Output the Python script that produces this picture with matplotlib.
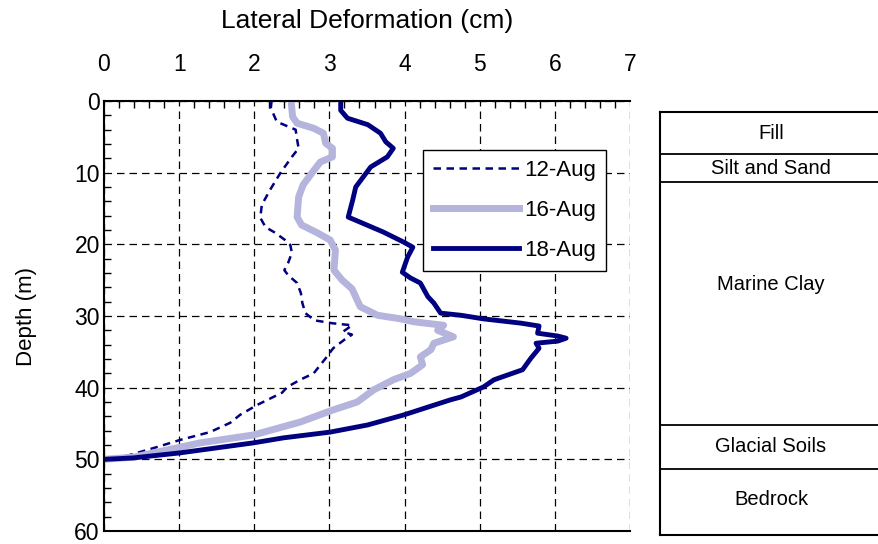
import matplotlib.pyplot as plt
from matplotlib.ticker import MultipleLocator

plt.rcParams['font.family'] = ['Liberation Sans', 'DejaVu Sans']

# inclinometer readings: depth (m) and lateral deformation (cm)
depth_12aug = [0, 1, 2.9, 4, 5.4, 6.6, 7.8, 10, 12.4, 14.5, 16.3, 17.6, 18.4, 19.4,
               20.1, 21.2, 22.6, 23.6, 24.3, 25.4, 26.8, 28.2, 29.6, 30.6, 31, 31.3,
               32.2, 32.6, 33.3, 34.5, 35.9, 38, 38.9, 39.9, 40.7, 42.4, 43.8, 44.9,
               46.2, 47.3, 48.3, 49.1, 49.8, 50]
defl_12aug = [2.23, 2.22, 2.3, 2.55, 2.57, 2.59, 2.5, 2.35, 2.21, 2.1, 2.08, 2.15, 2.28, 2.41,
              2.48, 2.5, 2.45, 2.4, 2.45, 2.57, 2.62, 2.64, 2.68, 2.8, 3.03, 3.3,
              3.18, 3.3, 3.2, 3.05, 2.95, 2.79, 2.61, 2.44, 2.37, 2.04, 1.81, 1.68,
              1.41, 1.01, 0.7, 0.44, 0.21, 0.0]

depth_16aug = [0, 2.2, 3.1, 3.8, 4.5, 5.9, 6.6, 7.8, 8.5, 10, 11.7, 13.4, 16.2, 17.3,
               18.4, 19.4, 20.8, 23.6, 25, 26.2, 28.7, 29.9, 30.4, 30.8, 31.3, 32, 32.9,
               33.8, 34.7, 35.7, 36.8, 38, 38.9, 40.3, 42, 43.1, 44.8, 46.6, 47.7,
               48.7, 49.7, 50]
defl_16aug = [2.49, 2.51, 2.57, 2.79, 2.92, 2.95, 3.04, 3.04, 2.88, 2.77, 2.65, 2.59, 2.57, 2.63,
              2.84, 3.01, 3.08, 3.06, 3.17, 3.3, 3.41, 3.64, 3.95, 4.12, 4.52, 4.44, 4.65,
              4.39, 4.35, 4.21, 4.24, 4.08, 3.85, 3.59, 3.37, 3.05, 2.61, 1.99, 1.28,
              0.84, 0.39, 0.0]

depth_18aug = [0, 1.3, 2.4, 3.3, 4.5, 5.7, 6.6, 7.8, 9.2, 10.6, 12, 13.8, 16.2, 17,
               18.3, 19.7, 20.4, 21.8, 23.9, 24.7, 25.4, 27.3, 28.2, 29.6, 29.9, 30.4,
               31, 31.4, 32.4, 32.8, 33.1, 33.5, 33.8, 34.5, 35.9, 37.5, 38.9, 39.9,
               41.3, 41.7, 43.8, 45.2, 46.2, 47, 47.7, 49.1, 49.8, 50]
defl_18aug = [3.15, 3.15, 3.24, 3.51, 3.68, 3.75, 3.85, 3.77, 3.55, 3.45, 3.35, 3.31, 3.25, 3.43,
              3.72, 3.99, 4.11, 4.04, 3.97, 4.08, 4.21, 4.31, 4.39, 4.48, 4.75, 5.05,
              5.55, 5.79, 5.77, 6.04, 6.15, 6.04, 5.75, 5.79, 5.68, 5.57, 5.19, 5.05,
              4.75, 4.61, 3.99, 3.51, 3.01, 2.39, 1.99, 1.01, 0.39, 0.0]

# soil profile
layer_names = ['Fill', 'Silt and Sand', 'Marine Clay', 'Glacial Soils', 'Bedrock']
layer_bounds = [0, 6, 10, 44.4, 50.6, 60]

navy = '#000080'
lavender = '#B4B4DC'

fig = plt.figure(figsize=(8.79, 5.44), dpi=100)
ax = fig.add_axes([104 / 879, 13 / 544, 526 / 879, 430 / 544])

ax.plot(defl_12aug, depth_12aug, color=navy, lw=1.8, dashes=(3, 2.2), label='12-Aug')
ax.plot(defl_16aug, depth_16aug, color=lavender, lw=5, label='16-Aug')
ax.plot(defl_18aug, depth_18aug, color=navy, lw=3.5, label='18-Aug')

ax.set_xlim(0, 7)
ax.set_ylim(60, 0)
ax.xaxis.set_major_locator(MultipleLocator(1))
ax.xaxis.set_minor_locator(MultipleLocator(0.2))
ax.yaxis.set_major_locator(MultipleLocator(10))
ax.yaxis.set_minor_locator(MultipleLocator(2))
ax.xaxis.tick_top()
ax.tick_params(axis='x', which='both', direction='in', length=5, width=1, pad=18, labelsize=16.5)
ax.tick_params(axis='y', which='both', direction='in', length=5, width=1, pad=3, labelsize=16.5)
ax.tick_params(axis='x', which='major', length=0)
ax.tick_params(axis='y', which='major', length=0)

ax.grid(True, which='major', color='black', lw=0.9, dashes=(6, 4))
ax.spines['right'].set_visible(False)
for s in ['top', 'left', 'bottom']:
    ax.spines[s].set_linewidth(1.5)

ax.set_xlabel('Lateral Deformation (cm)', fontsize=19)
ax.xaxis.set_label_position('top')
ax.xaxis.set_label_coords(0.5, 1.17)
ax.set_ylabel('Depth (m)', fontsize=16)
ax.yaxis.set_label_coords(-0.127, 0.5)

leg = ax.legend(loc='upper left', bbox_to_anchor=(0.606, 0.886), borderaxespad=0,
                fontsize=16, handlelength=3.9, handletextpad=0.2, labelspacing=0.85,
                borderpad=0.45, fancybox=False, framealpha=1, edgecolor='black')
leg.get_frame().set_linewidth(1)

# soil column beside the plot
col = fig.add_axes([660 / 879, 9 / 544, 222 / 879, 423 / 544])
col.set_xlim(0, 1)
col.set_ylim(60, 0)
col.set_xticks([])
col.set_yticks([])
col.spines['right'].set_visible(False)
for s in ['top', 'left', 'bottom']:
    col.spines[s].set_linewidth(1.5)
for b in layer_bounds[1:-1]:
    col.axhline(b, color='black', lw=1.3)
label_depth = [3, 8, 24.4, 47.5, 55]
for name, d in zip(layer_names, label_depth):
    col.text(0.5, d, name, ha='center', va='center', fontsize=14.5)

fig.savefig('out.png', dpi=100)
